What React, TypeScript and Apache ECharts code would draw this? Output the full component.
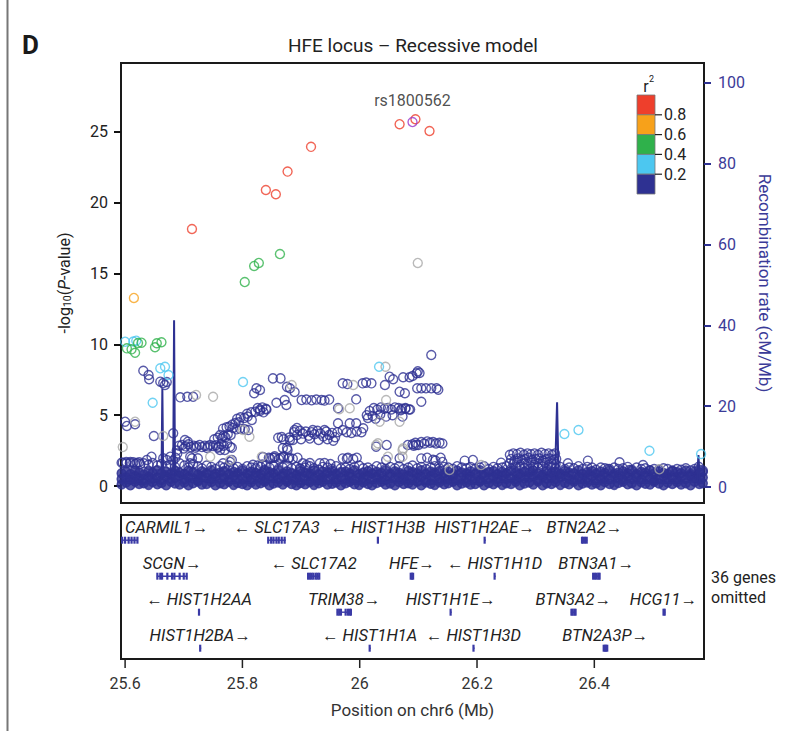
import React, { useEffect, useRef } from "react";
import * as echarts from "echarts";

const FONT = 'Roboto, "Open Sans", sans-serif';
const NAVY = "#2e3192";
const RED = "#ee3f2c";
const ORANGE = "#f7a11a";
const GREEN = "#2fb14b";
const LBLUE = "#4cc7f0";
const GREY = "#a8a8a8";
const PURPLE = "#9b38c9";
const GENE_COLOR = "#3a3aa6";
const GENE_FONT = 'italic 16.5px Roboto, "Open Sans", sans-serif';

const XMIN = 25.593;
const XMAX = 26.587;
const xTicks = [25.6, 25.8, 26, 26.2, 26.4];
const yTicks = [0, 5, 10, 15, 20, 25];
const recTicks = [0, 20, 40, 60, 80, 100];
const r2Breaks = ["0.8", "0.6", "0.4", "0.2"];
const r2Colors = [RED, ORANGE, GREEN, LBLUE, NAVY];

// [position (Mb), -log10 P]
const leadSnp = [[26.09, 25.7]];
const leadName = "rs1800562";
const redPts = [
  [25.714, 18.15], [25.84, 20.9], [25.857, 20.6], [25.877, 22.2], [25.917, 23.95],
  [26.068, 25.55], [26.095, 25.9], [26.119, 25.07],
];
const orangePts = [[25.615, 13.28]];
const greenPts = [
  [25.804, 14.4], [25.82, 15.54], [25.828, 15.75], [25.864, 16.38],
  [25.603, 9.72], [25.611, 9.65], [25.617, 9.41], [25.622, 10.1], [25.628, 10.12],
  [25.651, 9.8], [25.654, 10.08], [25.662, 10.15],
];
const lbluePts = [
  [25.6, 10.19], [25.614, 10.2], [25.619, 10.26], [25.66, 8.31], [25.668, 8.42], [25.674, 7.84],
  [25.647, 5.88], [25.801, 7.34], [26.033, 8.42], [26.349, 3.67], [26.373, 3.95],
  [26.494, 2.49], [26.582, 2.26],
];
const greyPts = [
  [26.099, 15.75], [25.596, 2.75], [25.617, 4.54], [25.665, 3.53], [25.721, 6.43], [25.75, 6.3],
  [25.801, 3.95], [25.812, 3.48], [25.833, 2.07], [25.884, 7.13], [25.989, 7.13], [25.983, 5.49],
  [25.965, 5.42], [26.044, 8.42], [26.034, 4.54], [26.068, 4.54], [26.031, 3.02], [26.074, 2.66],
  [26.048, 2.07], [26.073, 2.07], [26.073, 2.54], [26.153, 1.13], [26.207, 1.48], [26.511, 1.18],
  [25.745, 2.07], [25.779, 1.84], [26.028, 2.9], [26.045, 6.07],
];
const navyPts = [
  [25.631, 8.14], [25.64, 7.84], [25.641, 7.54], [25.66, 7.37], [25.665, 7.27], [25.668, 7.13], [25.671, 7.34],
  [25.6, 4.54], [25.603, 4.24], [25.617, 4.36], [25.649, 3.53],
  [25.694, 6.26], [25.706, 6.3], [25.716, 6.3],
  [25.682, 3.72], [25.702, 3.25], [25.707, 3.13],
  [25.645, 2.07], [25.637, 1.84], [25.665, 1.96], [25.677, 2.07], [25.711, 1.6], [25.714, 1.96],
  [25.724, 1.96], [25.711, 2.07], [25.671, 1.84], [25.682, 1.8], [25.686, 2.0], [25.689, 2.3],
  [25.688, 2.5], [25.692, 2.85], [25.697, 2.9], [25.703, 2.8], [25.708, 2.95], [25.712, 2.75],
  [25.717, 2.85], [25.722, 2.8], [25.727, 2.9], [25.731, 2.75], [25.736, 2.85], [25.741, 2.8],
  [25.745, 2.9], [25.75, 2.82], [25.755, 2.88], [25.76, 2.78], [25.764, 2.95], [25.768, 2.85],
  [25.7, 2.65], [25.72, 2.7], [25.74, 2.68], [25.758, 2.7],
  [25.752, 3.3], [25.758, 3.4], [25.765, 3.35], [25.771, 3.45],
  [25.762, 3.6], [25.768, 3.55], [25.775, 3.65], [25.78, 3.6],
  [25.767, 4.05], [25.773, 4.15], [25.778, 4.2], [25.784, 4.1], [25.79, 4.0], [25.796, 4.05],
  [25.804, 4.0], [25.81, 3.95],
  [25.783, 4.35], [25.788, 4.45], [25.794, 4.5],
  [25.791, 4.75], [25.797, 4.85], [25.803, 4.8], [25.809, 4.9], [25.816, 4.66],
  [25.808, 5.1], [25.815, 5.2], [25.822, 5.25], [25.83, 5.3], [25.836, 5.2],
  [25.826, 5.5], [25.834, 5.55], [25.84, 5.45], [25.83, 5.4], [25.841, 5.4],
  [25.82, 6.55], [25.824, 6.9], [25.83, 6.78],
  [25.852, 7.6], [25.865, 7.6],
  [25.881, 6.9], [25.876, 7.0], [25.889, 6.64],
  [25.858, 5.88], [25.872, 6.07], [25.875, 5.72],
  [25.867, 3.46], [25.893, 4.1],
  [25.876, 2.68], [25.869, 2.68], [25.877, 2.54],
  [25.861, 3.4], [25.87, 3.3], [25.88, 3.42], [25.886, 3.25], [25.889, 3.95],
  [25.847, 1.95], [25.855, 2.0], [25.862, 1.9], [25.87, 2.02], [25.878, 1.95], [25.886, 1.92], [25.894, 2.0],
  [25.901, 6.07], [25.909, 6.1], [25.918, 6.05], [25.926, 6.1], [25.935, 6.07], [25.94, 6.03], [25.948, 6.1],
  [25.888, 3.8], [25.893, 3.6], [25.898, 3.9], [25.903, 3.7], [25.908, 3.85], [25.913, 3.55],
  [25.918, 3.8], [25.923, 3.65], [25.928, 3.9], [25.933, 3.7], [25.938, 3.5], [25.943, 3.85],
  [25.948, 3.6], [25.953, 3.75], [25.958, 3.45], [25.962, 3.8], [25.9, 3.3], [25.915, 3.35],
  [25.93, 3.25], [25.945, 3.3], [25.955, 3.2], [25.92, 3.95], [25.94, 3.95], [25.881, 3.25],
  [25.971, 3.95], [25.963, 4.43], [25.983, 4.43], [25.994, 4.43], [26.006, 4.07], [25.963, 5.5],
  [25.971, 7.25], [25.979, 7.2], [26.005, 7.25], [26.011, 7.3], [26.02, 7.25],
  [25.994, 6.12],
  [25.978, 3.8], [25.986, 3.75], [25.995, 3.85], [26.003, 3.8],
  [26.017, 5.3], [26.024, 5.5], [26.03, 5.4], [26.036, 5.55], [26.042, 5.45], [26.048, 5.5],
  [26.054, 5.4], [26.06, 5.55], [26.066, 5.5], [26.072, 5.45], [26.078, 5.5], [26.084, 5.4],
  [26.012, 5.0], [26.022, 4.95], [26.035, 5.05], [26.045, 4.9], [26.056, 5.0],
  [26.014, 4.8], [26.027, 4.75],
  [26.028, 2.78], [26.043, 7.13], [26.051, 7.72], [26.057, 7.54], [26.074, 7.68],
  [26.085, 7.68], [26.09, 7.77], [26.097, 7.96], [26.102, 7.98], [26.099, 8.1],
  [26.068, 6.66], [26.077, 6.55],
  [26.098, 6.9], [26.105, 6.9], [26.113, 6.9], [26.122, 6.9], [26.131, 6.9], [26.134, 6.8],
  [26.105, 5.95], [26.122, 9.25],
  [26.07, 5.35], [26.078, 5.45], [26.086, 5.4], [26.073, 4.9],
  [26.09, 2.95], [26.095, 3.05], [26.1, 2.9], [26.105, 3.1], [26.11, 3.0], [26.115, 3.15],
  [26.12, 3.05], [26.125, 3.1], [26.13, 3.0], [26.136, 3.05], [26.141, 3.0],
  [26.082, 2.9], [26.092, 2.85], [26.046, 2.9], [26.096, 2.9],
  [26.105, 1.95], [26.115, 2.0], [26.125, 1.85], [26.138, 2.0], [26.129, 1.8], [26.141, 1.7],
  [26.179, 1.79], [26.193, 1.84], [26.241, 1.65],
  [26.256, 2.2], [26.262, 2.3], [26.268, 2.25], [26.274, 2.35], [26.28, 2.2], [26.286, 2.3],
  [26.292, 2.25], [26.298, 2.3], [26.304, 2.2], [26.31, 2.35], [26.316, 2.25], [26.322, 2.3],
  [26.328, 2.2], [26.333, 2.3],
  [26.258, 1.9], [26.264, 1.8], [26.27, 1.95], [26.276, 1.85], [26.282, 1.9], [26.288, 2.0],
  [26.294, 1.85], [26.3, 1.9], [26.306, 1.95], [26.312, 1.8], [26.318, 1.9], [26.324, 1.95],
  [26.33, 1.85], [26.335, 1.9],
  [26.256, 1.6], [26.262, 1.55], [26.268, 1.65], [26.274, 1.5], [26.28, 1.6], [26.286, 1.55],
  [26.292, 1.65], [26.298, 1.5], [26.304, 1.6], [26.31, 1.55], [26.316, 1.65], [26.322, 1.5],
  [26.328, 1.6], [26.334, 1.55],
  [26.355, 1.6], [26.389, 1.79], [26.423, 1.2], [26.443, 1.67], [26.46, 1.13], [26.483, 1.48],
  [26.533, 1.01], [26.578, 1.36],
  [25.903, 1.6], [25.915, 1.62], [25.971, 1.95], [25.98, 2.0], [25.989, 1.9],
  [25.762, 2.55], [25.779, 2.78], [25.767, 1.6], [25.77, 2.55], [25.782, 1.84],
  [25.818, 1.5], [25.826, 1.45], [25.834, 1.52], [25.841, 1.48],
  [25.835, 2.05], [25.845, 2.0], [25.855, 2.1],
  [25.87, 2.1], [25.88, 2.0], [25.898, 1.25], [25.909, 1.48],
  [25.932, 1.6], [25.94, 1.62], [25.95, 1.55],
  [25.978, 1.95], [25.995, 2.0],
  [26.045, 1.84], [26.068, 1.96],
  [25.774, 3.0], [25.782, 2.7], [25.779, 1.7],
  [25.852, 2.0], [25.865, 1.98],
  [25.596, 1.65], [25.602, 1.7], [25.608, 1.6], [25.614, 1.68], [25.62, 1.62], [25.626, 1.55],
];

// dense low-significance band: positions in kb from 25.6 Mb and four layers of -log10 P
const bandPosKb = [
  -6, 2, 9, 17, 24, 32, 40, 47, 55, 62, 70, 78, 85, 93, 101, 108, 116, 124, 131, 139,
  147, 154, 162, 169, 177, 185, 192, 200, 208, 215, 223, 231, 238, 246, 253, 261, 269, 276, 284, 292,
  299, 307, 315, 322, 330, 337, 345, 353, 360, 368, 376, 383, 391, 399, 406, 414, 421, 429, 437, 444,
  452, 460, 467, 475, 483, 490, 498, 505, 513, 521, 528, 536, 544, 551, 559, 566, 574, 582, 589, 597,
  605, 612, 620, 628, 635, 643, 650, 658, 666, 673, 681, 689, 696, 704, 712, 719, 727, 734, 742, 750,
  757, 765, 773, 780, 788, 796, 803, 811, 818, 826, 834, 841, 849, 857, 864, 872, 880, 887, 895, 902,
  910, 918, 925, 933, 941, 948, 956, 964, 971, 979, 985,
];
const bandLayer0 = [
  0.1, 0.25, 0.05, 0.3, 0.15, 0.2, 0.08, 0.28, 0.12, 0.22, 0.05, 0.3, 0.18, 0.1, 0.25, 0.06, 0.2, 0.32, 0.1, 0.15,
  0.28, 0.05, 0.2, 0.12, 0.3, 0.08, 0.22, 0.15, 0.05, 0.27, 0.1, 0.2, 0.3, 0.06, 0.18, 0.25, 0.1, 0.3, 0.14, 0.05,
  0.22, 0.12, 0.28, 0.08, 0.2, 0.3, 0.1, 0.16, 0.25, 0.05, 0.2, 0.3, 0.12, 0.08, 0.26, 0.15, 0.05, 0.22, 0.3, 0.1,
  0.18, 0.06, 0.28, 0.14, 0.2, 0.1, 0.3, 0.05, 0.24, 0.16, 0.08, 0.27, 0.12, 0.2, 0.3, 0.06, 0.18, 0.25, 0.1, 0.14,
  0.3, 0.05, 0.22, 0.12, 0.28, 0.08, 0.2, 0.15, 0.3, 0.06, 0.18, 0.25, 0.1, 0.32, 0.05, 0.2, 0.14, 0.28, 0.08, 0.22,
  0.12, 0.3, 0.06, 0.18, 0.25, 0.1, 0.2, 0.05, 0.28, 0.15, 0.08, 0.22, 0.3, 0.12, 0.2, 0.05, 0.26, 0.16, 0.1, 0.3,
  0.18, 0.06, 0.24, 0.14, 0.28, 0.1, 0.2, 0.05, 0.3, 0.15, 0.2,
];
const bandLayer1 = [
  0.5, 0.62, 0.45, 0.7, 0.55, 0.48, 0.66, 0.52, 0.6, 0.42, 0.68, 0.5, 0.58, 0.72, 0.46, 0.64, 0.54, 0.4, 0.7, 0.56,
  0.48, 0.66, 0.52, 0.6, 0.44, 0.7, 0.5, 0.62, 0.56, 0.46, 0.72, 0.54, 0.42, 0.66, 0.58, 0.5, 0.68, 0.45, 0.6, 0.52,
  0.64, 0.48, 0.7, 0.55, 0.42, 0.62, 0.5, 0.74, 0.46, 0.58, 0.52, 0.68, 0.44, 0.6, 0.56, 0.7, 0.48, 0.64, 0.5, 0.42,
  0.66, 0.54, 0.6, 0.46, 0.72, 0.5, 0.58, 0.64, 0.44, 0.68, 0.56, 0.48, 0.62, 0.52, 0.7, 0.45, 0.6, 0.54, 0.66, 0.5,
  0.42, 0.68, 0.56, 0.62, 0.48, 0.72, 0.5, 0.58, 0.46, 0.64, 0.54, 0.6, 0.7, 0.44, 0.66, 0.52, 0.58, 0.48, 0.62, 0.7,
  0.5, 0.45, 0.64, 0.56, 0.6, 0.68, 0.42, 0.54, 0.62, 0.5, 0.7, 0.58, 0.46, 0.66, 0.52, 0.6, 0.48, 0.72, 0.55, 0.44,
  0.62, 0.68, 0.5, 0.58, 0.46, 0.64, 0.52, 0.7, 0.56, 0.48, 0.6,
];
const bandLayer2 = [
  0.9, 1.0, 0.85, 1.1, 0.95, 0.82, 1.05, 0.92, 1.12, 0.88, 1.0, 0.84, 1.08, 0.94, 0.86, 1.1, 0.98, 0.82, 1.04, 0.9,
  1.12, 0.86, 0.96, 1.06, 0.84, 1.0, 0.92, 1.1, 0.88, 1.02, 0.94, 0.84, 1.08, 0.98, 0.9, 1.12, 0.86, 1.04, 0.92, 0.82,
  1.06, 0.96, 0.88, 1.1, 0.84, 1.0, 0.94, 1.08, 0.86, 0.98, 1.02, 0.9, 1.12, 0.84, 0.96, 1.06, 0.88, 1.0, 0.92, 1.1,
  0.86, 1.04, 0.94, 0.82, 1.08, 0.98, 0.9, 1.12, 0.86, 1.02, 0.94, 1.06, 0.88, 1.0, 0.84, 1.1, 0.96, 0.9, 1.04, 0.86,
  1.12, 0.92, 0.98, 1.06, 0.84, 1.0, 0.9, 1.08, 0.94, 0.86, 1.02, 0.96, 1.1, 0.88, 0.82, 1.04, 0.92, 1.0, 0.86, 1.08,
  0.94, 0.9, 1.12, 0.84, 0.98, 1.06, 0.88, 1.02, 0.92, 1.1, 0.86, 0.96, 1.04, 0.9, 1.08, 0.84, 1.0, 0.94, 1.12, 0.88,
  1.02, 0.92, 0.86, 1.06, 0.98, 0.9, 1.1, 0.84, 1.04, 0.96, 1.0,
];
const bandLayer3 = [
  1.65, 1.6, 1.7, 1.55, 1.68, 1.6, 1.5, 1.62, 1.45, 1.55, 1.4, 1.5, 1.35, 1.6, 1.45, 1.3, 1.55, 1.4, 1.25, 1.45,
  1.35, 1.2, 1.4, 1.3, 1.45, 1.25, 1.35, 1.2, 1.4, 1.3, 1.25, 1.35, 1.15, 1.3, 1.4, 1.2, 1.3, 1.45, 1.25, 1.35,
  1.2, 1.3, 1.4, 1.25, 1.15, 1.35, 1.3, 1.2, 1.4, 1.25, 1.3, 1.2, 1.35, 1.45, 1.25, 1.3, 1.15, 1.4, 1.3, 1.2,
  1.35, 1.25, 1.4, 1.2, 1.3, 1.45, 1.25, 1.35, 1.2, 1.3, 1.4, 1.25, 1.35, 1.3, 1.2, 1.4, 1.3, 1.25, 1.35, 1.2,
  1.3, 1.4, 1.2, 1.35, 1.25, 1.3, 1.4, 1.2, 1.3, 1.35, 1.25, 1.2, 1.35, 1.3, 1.4, 1.2, 1.3, 1.25, 1.35, 1.2,
  1.3, 1.25, 1.4, 1.2, 1.35, 1.3, 1.15, 1.3, 1.25, 1.2, 1.3, 1.2, 1.25, 1.35, 1.15, 1.3, 1.2, 1.25, 1.1, 1.2,
  1.15, 1.25, 1.2, 1.1, 1.2, 1.15, 1.25, 1.1, 1.2, 1.15, 1.1,
];

// recombination rate [position (Mb), cM/Mb]
const recombRate = [
  [25.593, 0.8], [25.61, 1.2], [25.63, 0.6], [25.65, 1.5], [25.662, 2], [25.6635, 24.3], [25.665, 2.5],
  [25.675, 3], [25.682, 4], [25.6835, 41.3], [25.685, 4], [25.695, 2.5], [25.72, 1.8], [25.76, 1.2],
  [25.8, 0.9], [25.85, 1.4], [25.9, 0.7], [25.95, 1.1], [26.0, 0.8], [26.05, 1.3], [26.1, 0.6],
  [26.15, 1.0], [26.2, 0.8], [26.25, 1.5], [26.3, 2.0], [26.333, 3], [26.3365, 21], [26.339, 2.5],
  [26.36, 1.2], [26.4, 0.8], [26.45, 1.3], [26.5, 0.9], [26.55, 1.1], [26.575, 1.5], [26.5775, 7.9],
  [26.58, 1.2], [26.587, 0.9],
];

// genes
const geneNames = [
  "CARMIL1", "SLC17A3", "HIST1H3B", "HIST1H2AE", "BTN2A2",
  "SCGN", "SLC17A2", "HFE", "HIST1H1D", "BTN3A1",
  "HIST1H2AA", "TRIM38", "HIST1H1E", "BTN3A2", "HCG11",
  "HIST1H2BA", "HIST1H1A", "HIST1H3D", "BTN2A3P",
];
const geneStrand = ["+", "-", "-", "+", "+", "+", "-", "+", "-", "+", "-", "+", "+", "+", "+", "+", "-", "-", "+"];
const geneRow = [1, 1, 1, 1, 1, 2, 2, 2, 2, 2, 3, 3, 3, 3, 3, 4, 4, 4, 4];
const geneStart = [
  25.594, 25.843, 26.031, 26.213, 26.378,
  25.654, 25.911, 26.086, 26.23, 26.397,
  25.726, 25.961, 26.155, 26.36, 26.518,
  25.728, 26.017, 26.194, 26.415,
];
const geneEnd = [
  25.622, 25.874, 26.031, 26.213, 26.388,
  25.706, 25.932, 26.092, 26.23, 26.409,
  25.726, 25.986, 26.155, 26.368, 26.521,
  25.728, 26.017, 26.194, 26.422,
];
const geneExons = [
  [25.595, 25.6, 25.606, 25.611, 25.616, 25.621],
  [25.844, 25.849, 25.853, 25.858, 25.862, 25.867, 25.872],
  [26.031],
  [26.213],
  [26.379, 26.381, 26.384, 26.387],
  [25.655, 25.66, 25.663, 25.672, 25.68, 25.684, 25.693, 25.7, 25.705],
  [25.912, 25.915, 25.918, 25.921, 25.925, 25.928, 25.931],
  [26.087, 26.089, 26.091],
  [26.23],
  [26.398, 26.401, 26.404, 26.407, 26.409],
  [25.726],
  [25.962, 25.965, 25.968, 25.976, 25.98, 25.983, 25.985],
  [26.155],
  [26.361, 26.363, 26.366, 26.368],
  [26.518, 26.52],
  [25.728],
  [26.017],
  [26.194],
  [26.416, 26.418, 26.42, 26.422],
];
const omittedText = "36 genes\nomitted";

let measureCtx: CanvasRenderingContext2D | null = null;
function measure(t: string, font: string) {
  if (!measureCtx) measureCtx = document.createElement("canvas").getContext("2d");
  if (!measureCtx) return t.length * 9;
  measureCtx.font = font;
  return measureCtx.measureText(t).width;
}

function geneLabel(i: number) {
  return geneStrand[i] === "+" ? geneNames[i] + "→" : "← " + geneNames[i];
}

function ringSeries(name: string, data: number[][], color: string, z: number, fill?: string) {
  return {
    name,
    type: "scatter",
    xAxisIndex: 0,
    yAxisIndex: 0,
    data,
    symbol: "circle",
    symbolSize: 9,
    z,
    itemStyle: { color: fill || "rgba(0,0,0,0)", borderColor: color, borderWidth: 1.4 },
    emphasis: { disabled: true },
  };
}

export default function App() {
  const ref = useRef<HTMLDivElement>(null);
  useEffect(() => {
    if (!ref.current) return;
    const chart = echarts.init(ref.current, null, { renderer: "svg" });

    const bandCore: number[][] = [];
    const bandTop: number[][] = [];
    const coreLayers = [bandLayer0, bandLayer1, bandLayer2];
    bandPosKb.forEach((kb, i) => {
      const x = 25.6 + kb / 1000;
      coreLayers.forEach((layer) => {
        if (layer[i] !== undefined) bandCore.push([x, layer[i]]);
      });
      if (bandLayer3[i] !== undefined) bandTop.push([x, bandLayer3[i]]);
    });

    // gene track rows counted from the top: row 1 sits highest
    const geneData = geneNames.map((_, i) => [geneStart[i], geneEnd[i], 4.3 - geneRow[i], i]);

    const legendX = 637;
    const legendTop = 95;
    const segH = 19.8;
    const legendEls: any[] = [];
    r2Colors.forEach((c, k) => {
      legendEls.push({
        type: "rect",
        shape: { x: legendX, y: legendTop + k * segH, width: 18, height: segH },
        style: { fill: c, stroke: "#777", lineWidth: 0.8 },
      });
    });
    r2Breaks.forEach((t, k) => {
      const yy = legendTop + (k + 1) * segH;
      legendEls.push({
        type: "line",
        shape: { x1: legendX + 18, y1: yy, x2: legendX + 25, y2: yy },
        style: { stroke: "#222", lineWidth: 1.2 },
      });
      legendEls.push({
        type: "text",
        style: { text: t, x: legendX + 27, y: yy, verticalAlign: "middle", font: `16px ${FONT}`, fill: "#222" },
      });
    });
    legendEls.push({
      type: "text",
      style: { text: "r", x: legendX + 9, y: 86, align: "center", verticalAlign: "middle", font: `16px ${FONT}`, fill: "#222" },
    });
    legendEls.push({
      type: "text",
      style: { text: "2", x: legendX + 14.5, y: 79, align: "center", verticalAlign: "middle", font: `9px ${FONT}`, fill: "#222" },
    });

    const option: any = {
      animation: false,
      textStyle: { fontFamily: FONT },
      grid: [
        { left: 121, top: 63, width: 583, height: 440, show: true, borderColor: "#1a1a1a", borderWidth: 2, backgroundColor: "rgba(0,0,0,0)" },
        { left: 121, top: 515, width: 583, height: 144, show: true, borderColor: "#1a1a1a", borderWidth: 2, backgroundColor: "rgba(0,0,0,0)" },
      ],
      xAxis: [
        { gridIndex: 0, type: "value", min: XMIN, max: XMAX, show: false },
        {
          gridIndex: 1, type: "value", min: XMIN, max: XMAX, position: "bottom",
          axisLine: { show: false, onZero: false },
          axisTick: { show: false },
          axisLabel: { customValues: xTicks, fontSize: 16, color: "#333", margin: 16, fontFamily: FONT, formatter: (v: number) => String(v) },
          splitLine: { show: false },
          name: "Position on chr6 (Mb)", nameLocation: "middle", nameGap: 42,
          nameTextStyle: { fontSize: 17, color: "#333", fontFamily: FONT },
        },
      ],
      yAxis: [
        {
          gridIndex: 0, type: "value", min: -1.2, max: 29.87,
          axisLine: { show: false, onZero: false },
          axisTick: { show: true, length: 7, lineStyle: { color: "#111", width: 2 }, customValues: yTicks },
          axisLabel: { customValues: yTicks, fontSize: 16, color: "#222", margin: 13, fontFamily: FONT },
          splitLine: { show: false },
          name: "-log{sub|10}({it|P}-value)", nameLocation: "middle", nameGap: 48, nameRotate: 90,
          nameTextStyle: {
            fontSize: 16, color: "#222", fontFamily: FONT,
            rich: {
              sub: { fontSize: 10.5, fontFamily: FONT, color: "#222", verticalAlign: "bottom", padding: [7, 0, 0, 0] },
              it: { fontSize: 16, fontFamily: FONT, color: "#222", fontStyle: "italic" },
            },
          },
        },
        {
          gridIndex: 0, type: "value", position: "right", min: -3.96, max: 104.95,
          axisLine: { show: false, onZero: false },
          axisTick: { show: true, length: 7, lineStyle: { color: NAVY, width: 2 }, customValues: recTicks },
          axisLabel: { customValues: recTicks, fontSize: 16, color: "#3b3b98", margin: 14, fontFamily: FONT },
          splitLine: { show: false },
          name: "Recombination rate (cM/Mb)", nameLocation: "middle", nameGap: 52, nameRotate: -90,
          nameTextStyle: { fontSize: 17, color: "#3b3b98", fontFamily: FONT },
        },
        { gridIndex: 1, type: "value", min: 0, max: 4, show: false },
      ],
      series: [
        ringSeries("band core", bandCore, NAVY, 2, NAVY),
        ringSeries("band top", bandTop, NAVY, 2),
        ringSeries("r2<0.2", navyPts, NAVY, 3),
        {
          name: "recomb", type: "line", xAxisIndex: 0, yAxisIndex: 1, data: recombRate,
          showSymbol: false, symbol: "none", z: 4,
          lineStyle: { color: NAVY, width: 2 }, emphasis: { disabled: true },
        },
        ringSeries("na", greyPts, GREY, 5),
        ringSeries("r2 0.2-0.4", lbluePts, LBLUE, 6),
        ringSeries("r2 0.4-0.6", greenPts, GREEN, 7),
        ringSeries("r2 0.6-0.8", orangePts, ORANGE, 8),
        ringSeries("r2>0.8", redPts, RED, 9),
        {
          ...ringSeries("lead", leadSnp, PURPLE, 10),
          label: { show: true, position: "top", distance: 8, formatter: leadName, fontSize: 16, color: "#222", fontFamily: FONT },
        },
        {
          name: "genes", type: "custom", xAxisIndex: 1, yAxisIndex: 2, data: geneData,
          encode: { x: [0, 1], y: 2 }, clip: false, z: 5,
          renderItem: (params: any, api: any) => {
            const i = api.value(3);
            const yv = api.value(2);
            const p0 = api.coord([geneStart[i], yv]);
            const p1 = api.coord([geneEnd[i], yv]);
            const children: any[] = [];
            children.push({
              type: "rect",
              shape: { x: p0[0], y: p0[1] - 0.7, width: Math.max(p1[0] - p0[0], 1), height: 1.4 },
              style: { fill: GENE_COLOR },
            });
            geneExons[i].forEach((e: number) => {
              const pe = api.coord([e, yv]);
              children.push({
                type: "rect",
                shape: { x: pe[0] - 1.1, y: pe[1] - 3.5, width: 2.2, height: 7 },
                style: { fill: GENE_COLOR },
              });
            });
            const label = geneLabel(i);
            const w = measure(label, GENE_FONT);
            const cs = params.coordSys;
            let cx = (p0[0] + p1[0]) / 2;
            const L = cs.x + 4;
            const R = cs.x + cs.width - 7;
            if (cx - w / 2 < L) cx = L + w / 2;
            if (cx + w / 2 > R) cx = R - w / 2;
            children.push({
              type: "text",
              style: { text: label, x: cx, y: p0[1] - 12.5, align: "center", verticalAlign: "middle", font: GENE_FONT, fill: "#222" },
            });
            return { type: "group", children };
          },
        },
        {
          name: "x ticks", type: "custom", xAxisIndex: 1, yAxisIndex: 2,
          data: xTicks.map((v) => [v, 0]), encode: { x: 0, y: 1 }, clip: false, z: 6,
          renderItem: (params: any, api: any) => {
            const p = api.coord([api.value(0), 0]);
            const bottom = params.coordSys.y + params.coordSys.height;
            return {
              type: "line",
              shape: { x1: p[0], y1: bottom + 1, x2: p[0], y2: bottom + 9 },
              style: { stroke: "#222", lineWidth: 1.5 },
            };
          },
        },
      ],
      graphic: [
        { type: "line", shape: { x1: 7.5, y1: 0, x2: 7.5, y2: 731 }, style: { stroke: "#777", lineWidth: 2 } },
        { type: "text", style: { text: "D", x: 22, y: 45, verticalAlign: "middle", font: `bold 26px ${FONT}`, fill: "#1a1a1a" } },
        { type: "text", style: { text: "HFE locus – Recessive model", x: 413, y: 45, align: "center", verticalAlign: "middle", font: `19px ${FONT}`, fill: "#222" } },
        { type: "text", style: { text: omittedText, x: 711, y: 587, verticalAlign: "middle", font: `16px ${FONT}`, lineHeight: 20, fill: "#222" } },
        { type: "group", children: legendEls },
      ],
    };
    chart.setOption(option);
    return () => chart.dispose();
  }, []);
  return <div ref={ref} style={{ position: "absolute", left: 0, top: 0, width: 785, height: 731, background: "#fff" }} />;
}
